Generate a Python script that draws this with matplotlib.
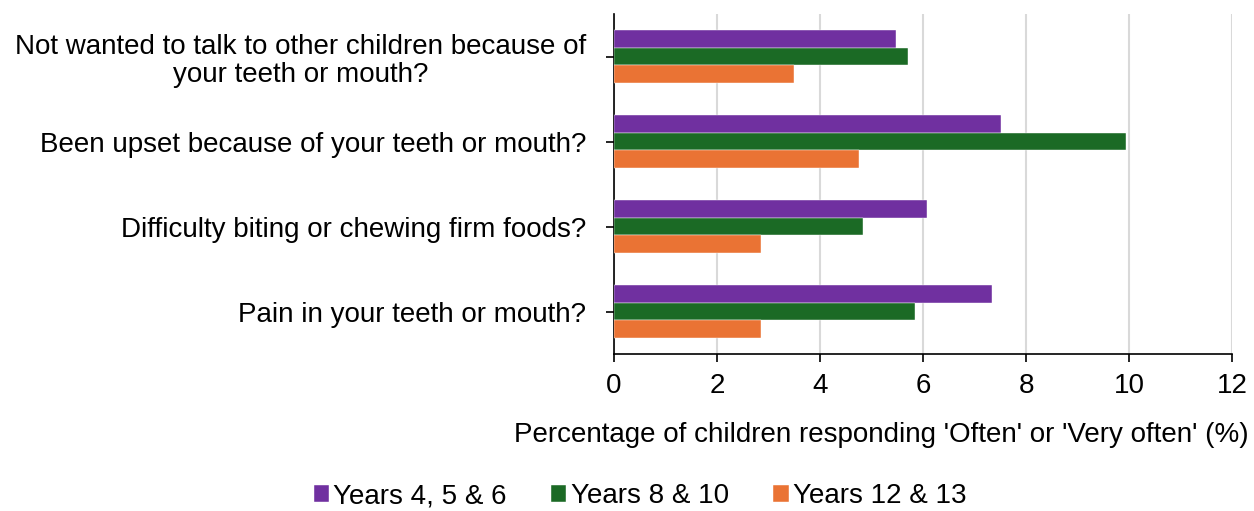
import numpy as np
import matplotlib.pyplot as plt

plt.rcParams['font.family'] = ['Liberation Sans', 'DejaVu Sans']

# Questions (top to bottom)
categories = ['Not wanted to talk to other children because of\nyour teeth or mouth?',
              'Been upset because of your teeth or mouth?',
              'Difficulty biting or chewing firm foods?',
              'Pain in your teeth or mouth?']

# Percentage responding 'Often' or 'Very often'
years_4_5_6 = [5.47, 7.52, 6.07, 7.34]
years_8_10 = [5.70, 9.94, 4.83, 5.84]
years_12_13 = [3.50, 4.75, 2.86, 2.86]

series_names = ['Years 4, 5 & 6', 'Years 8 & 10', 'Years 12 & 13']
colors = ['#7030A0', '#1B6A25', '#EA7334']

fig = plt.figure(figsize=(12.54, 5.11), dpi=100)
ax = fig.add_axes([614/1254, 1 - 354/511, 618/1254, 340/511])

y = np.arange(len(categories))
h = 0.205
for i, (vals, name, c) in enumerate(zip([years_4_5_6, years_8_10, years_12_13], series_names, colors)):
    ax.barh(y + (i - 1) * h, vals, height=h, color=c, label=name, zorder=3,
            edgecolor='white', linewidth=0.3)

ax.set_ylim(3.5, -0.5)
ax.set_xlim(0, 12)
ax.set_xticks(range(0, 13, 2))
ax.set_yticks(y)
ax.set_yticklabels(categories, fontsize=20, multialignment='center', linespacing=1.1)
ax.tick_params(axis='x', labelsize=20, length=6, width=1.2, pad=8)
ax.tick_params(axis='y', length=6, width=1.2, pad=14)

ax.grid(axis='x', color='#D9D9D9', linewidth=1.5, zorder=0)
for s in ['top', 'right']:
    ax.spines[s].set_visible(False)
ax.spines['left'].set_linewidth(1.2)
ax.spines['bottom'].set_linewidth(1.2)

fig.text(881/1254, 1 - 435/511, "Percentage of children responding 'Often' or 'Very often' (%)",
         ha='center', va='center', fontsize=20)

fig.legend(loc='center', bbox_to_anchor=(640/1254, 1 - 496/511), ncol=3, frameon=False,
           fontsize=20, handlelength=0.55, handleheight=0.55, handletextpad=0.15,
           columnspacing=1.6)

fig.savefig('out.png', dpi=100)
